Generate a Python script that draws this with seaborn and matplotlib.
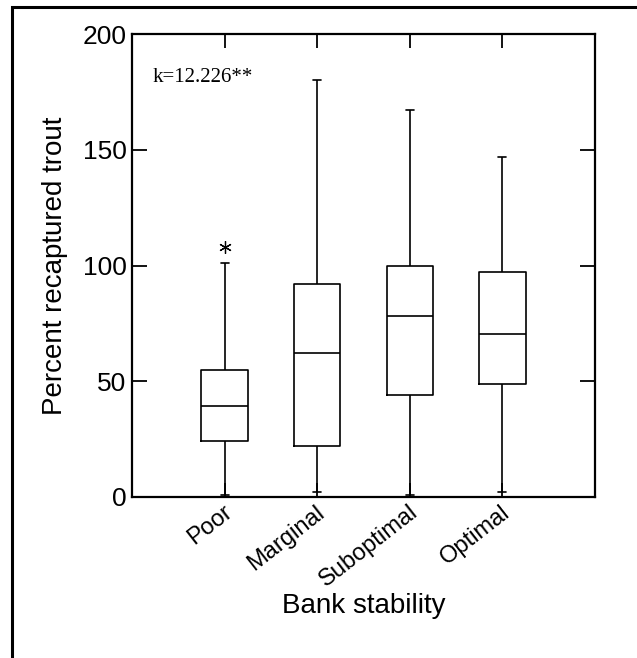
import numpy as np
import pandas as pd
import matplotlib
matplotlib.use("Agg")
import matplotlib.pyplot as plt
import matplotlib.transforms as mtransforms
from matplotlib.patches import Rectangle
import seaborn as sns

# ---- data (five-number summaries) ----
categories = ["Poor", "Marginal", "Suboptimal", "Optimal"]
whisker_low = [1, 2, 1, 2]
q1 = [24, 22, 44, 49]
median = [39.5, 62, 78, 70.5]
q3 = [55, 92, 100, 97]
whisker_high = [101, 180, 167, 147]
outliers = [[108], [], [], []]
yticks = [0, 50, 100, 150, 200]
annotation = "k=12.226**"

# Build observations that reproduce the summaries exactly
rows = []
for i, c in enumerate(categories):
    vals = [whisker_low[i], q1[i], q1[i], median[i], median[i], q3[i], q3[i], whisker_high[i]] + outliers[i]
    for v in vals:
        rows.append({"Bank stability": c, "value": v})
df = pd.DataFrame(rows)

sns.set_style("white")
plt.rcParams["font.family"] = ["Liberation Sans", "DejaVu Sans"]
plt.rcParams["text.color"] = "black"
plt.rcParams["axes.labelcolor"] = "black"
plt.rcParams["xtick.color"] = "black"
plt.rcParams["ytick.color"] = "black"

fig = plt.figure(figsize=(6.37, 6.58), dpi=100)
ax = fig.add_axes([132 / 637, 1 - 497 / 658, 463 / 637, 463 / 658])

sns.boxplot(
    data=df, x="Bank stability", y="value", order=categories, ax=ax,
    fill=False, color="black", linewidth=1.2, width=0.5, whis=1.5,
    capwidths=0.085,
    flierprops=dict(marker=(6, 2, 0), markersize=9, markeredgecolor="black",
                    markerfacecolor="black", markeredgewidth=0.9),
)

ax.set_xlim(-1, 4)
ax.set_ylim(0, 200)
ax.set_yticks(yticks)
ax.set_yticklabels([str(t) for t in yticks], fontsize=19, color="black")

for s in ax.spines.values():
    s.set_visible(True)
    s.set_color("black")
    s.set_linewidth(1.6)

ax.tick_params(axis="y", direction="in", length=10.5, width=1.3, left=True, right=True, pad=4, colors="black")
ax.tick_params(axis="x", direction="in", length=10, width=1.3, bottom=True, top=True, pad=3, colors="black")

offset = mtransforms.ScaledTranslation(12 / 100, 0, fig.dpi_scale_trans)
for lab in ax.get_xticklabels():
    lab.set_rotation(38)
    lab.set_ha("right")
    lab.set_fontsize(17)
    lab.set_color("black")
    lab.set_transform(lab.get_transform() + offset)

ax.set_xlabel("Bank stability", fontsize=20, color="black")
ax.set_ylabel("Percent recaptured trout", fontsize=20, color="black")
ax.xaxis.set_label_coords(0.5, -0.207)
ax.yaxis.set_label_coords(-0.138, 0.5)

ax.text(-0.78, 181, annotation, fontsize=15, family=["Liberation Serif", "DejaVu Serif"],
        ha="left", va="center", color="black")

# outer frame (partially cropped in the reference)
fig.patches.append(Rectangle((12 / 637, -0.2), 1.2, 0.2 + 1 - 7 / 658, transform=fig.transFigure,
                             fill=False, edgecolor="black", linewidth=2.2))

fig.savefig("out.png", dpi=100)
